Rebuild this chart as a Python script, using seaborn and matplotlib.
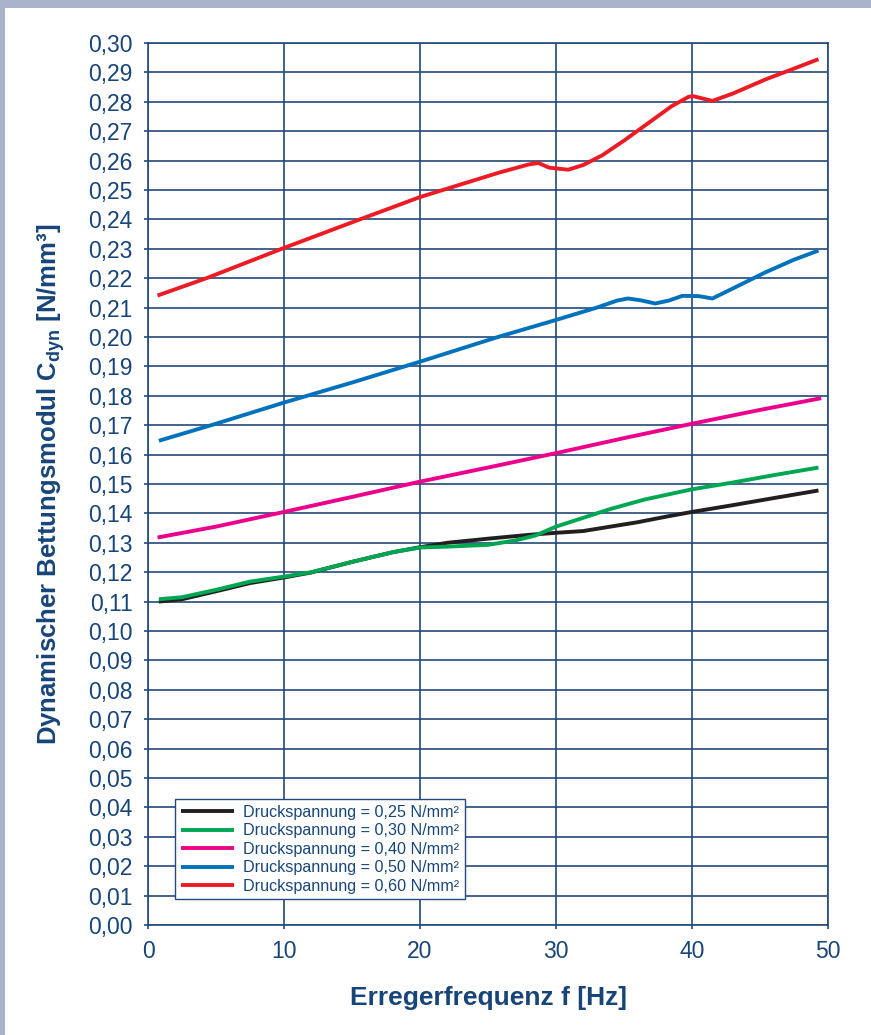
import numpy as np
import pandas as pd
import matplotlib
matplotlib.use("Agg")
import matplotlib.pyplot as plt
import seaborn as sns

# Measured dynamic bedding modulus over excitation frequency, per compressive stress
freq_025 = [0.8, 2.5, 5, 7.5, 10, 12, 15, 18, 20, 22, 25, 28, 30, 32, 34, 36, 38, 40, 43, 46, 49.3]
cdyn_025 = [0.1100, 0.1108, 0.1135, 0.1163, 0.1182, 0.1199, 0.1235, 0.1268, 0.1285, 0.1300,
            0.1314, 0.1327, 0.1334, 0.1340, 0.1355, 0.1370, 0.1388, 0.1405, 0.1428, 0.1452, 0.1478]

freq_030 = [0.8, 2.5, 5, 7.5, 10, 12, 15, 18, 20, 22, 25, 27, 28.5, 30, 32, 34, 36.5, 40, 43, 46, 49.3]
cdyn_030 = [0.1108, 0.1115, 0.1140, 0.1168, 0.1185, 0.1200, 0.1235, 0.1268, 0.1284, 0.1287,
            0.1293, 0.1308, 0.1325, 0.1355, 0.1385, 0.1415, 0.1447, 0.1482, 0.1505, 0.1530, 0.1556]

freq_040 = [0.7, 5, 10, 15, 20, 25, 30, 35, 40, 45, 49.5]
cdyn_040 = [0.1318, 0.1355, 0.1405, 0.1456, 0.1508, 0.1556, 0.1605, 0.1656, 0.1705, 0.1752, 0.1792]

freq_050 = [0.8, 5, 10, 15, 20, 25.8, 30, 33, 34.5, 35.3, 36.2, 37.3, 38.3, 39.3, 40.5, 41.5,
            43, 45.4, 47.5, 49.3]
cdyn_050 = [0.1647, 0.1705, 0.1777, 0.1845, 0.1916, 0.2001, 0.2058, 0.2100, 0.2124, 0.2131,
            0.2125, 0.2114, 0.2124, 0.2140, 0.2139, 0.2131, 0.2165, 0.2220, 0.2263, 0.2294]

freq_060 = [0.7, 4.3, 10, 15, 20, 25.8, 28.0, 28.7, 29.5, 30.9, 32, 33.4, 35, 36.8, 38.5, 39.75,
            40.1, 41.5, 43, 45.4, 47.5, 49.3]
cdyn_060 = [0.2141, 0.2200, 0.2303, 0.2390, 0.2476, 0.2559, 0.2587, 0.2592, 0.2576, 0.2569,
            0.2585, 0.2618, 0.2668, 0.2728, 0.2785, 0.2817, 0.2819, 0.2803, 0.2828, 0.2876,
            0.2913, 0.2945]

series_labels = [
    "Druckspannung = 0,25 N/mm²",
    "Druckspannung = 0,30 N/mm²",
    "Druckspannung = 0,40 N/mm²",
    "Druckspannung = 0,50 N/mm²",
    "Druckspannung = 0,60 N/mm²",
]
series_colors = ["#231F20", "#00A651", "#EC008C", "#0072BC", "#ED1C24"]

x_ticks = [0, 10, 20, 30, 40, 50]
y_ticks = [round(v * 0.01, 2) for v in range(31)]

frames = []
for lab, fx, fy in zip(series_labels,
                       [freq_025, freq_030, freq_040, freq_050, freq_060],
                       [cdyn_025, cdyn_030, cdyn_040, cdyn_050, cdyn_060]):
    frames.append(pd.DataFrame({"f": fx, "c": fy, "Serie": lab}))
data = pd.concat(frames, ignore_index=True)

sns.set_theme(style="white")
navy = "#17457A"
grid_col = "#24497A"
plt.rcParams["font.family"] = ["Liberation Sans", "DejaVu Sans"]
plt.rcParams["mathtext.fontset"] = "custom"
plt.rcParams["mathtext.rm"] = "Liberation Sans"
plt.rcParams["mathtext.bf"] = "Liberation Sans:bold"

fig = plt.figure(figsize=(8.71, 10.35), dpi=100)
fig.patch.set_facecolor("white")

# light frame strips along the top and left edge
fig.add_artist(plt.Rectangle((0, 1 - 8 / 1035), 1, 8 / 1035, transform=fig.transFigure,
                             facecolor="#A9B4CC", edgecolor="none", zorder=0))
fig.add_artist(plt.Rectangle((0, 0), 5 / 871, 1, transform=fig.transFigure,
                             facecolor="#A9B4CC", edgecolor="none", zorder=0))

ax = fig.add_axes([148 / 871, 110 / 1035, 680 / 871, 882 / 1035])

sns.lineplot(data=data, x="f", y="c", hue="Serie", palette=series_colors,
             hue_order=series_labels, linewidth=2.8, sort=False, ax=ax,
             estimator=None, solid_joinstyle="round", solid_capstyle="butt")

ax.set_xlim(0, 50)
ax.set_ylim(0, 0.30)
ax.set_xticks(x_ticks)
ax.set_yticks(y_ticks)
ax.set_xticklabels([str(v) for v in x_ticks])
ax.set_yticklabels([f"{v:.2f}".replace(".", ",") for v in y_ticks])

ax.grid(True, color=grid_col, linewidth=1.2)
ax.set_axisbelow(True)
for sp in ax.spines.values():
    sp.set_color(grid_col)
    sp.set_linewidth(1.2)

ax.tick_params(axis="both", which="major", direction="out", length=3, width=1.2,
               color=grid_col, labelcolor=navy, labelsize=16.5, pad=8)
ax.tick_params(axis="x", bottom=True)
ax.tick_params(axis="y", left=True)

ax.set_xlabel("Erregerfrequenz f [Hz]", fontsize=19, fontweight="bold", color=navy, labelpad=16)
ax.set_ylabel(r"Dynamischer Bettungsmodul C$_\mathbf{dyn}$ [N/mm³]", fontsize=18.5,
              fontweight="bold", color=navy, labelpad=15)

handles, labels = ax.get_legend_handles_labels()
leg = ax.legend(handles, labels, loc="lower left", bbox_to_anchor=(0.04, 0.029),
                borderaxespad=0, fontsize=11.6, frameon=True, fancybox=False,
                handlelength=3.3, handletextpad=0.55, labelspacing=0.22,
                borderpad=0.35, framealpha=1)
leg.get_frame().set_edgecolor(grid_col)
leg.get_frame().set_linewidth(1.0)
for t in leg.get_texts():
    t.set_color(navy)
for h in leg.get_lines():
    h.set_linewidth(2.8)

fig.savefig("out.png", dpi=100)
